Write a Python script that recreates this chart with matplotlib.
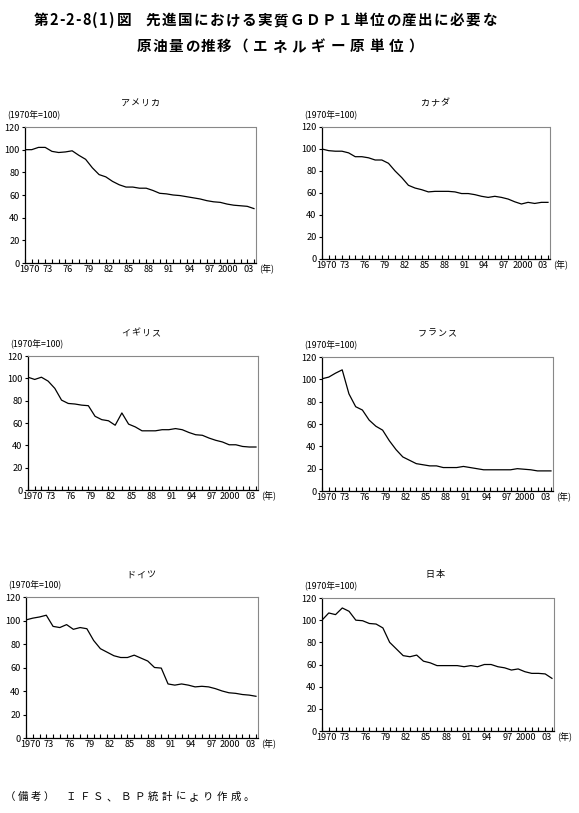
import matplotlib
matplotlib.use("Agg")
import matplotlib.pyplot as plt
import numpy as np

plt.rcParams['font.family'] = ['Noto Sans CJK JP', 'DejaVu Sans']

years = list(range(1970, 2005))
tick_years = [1970, 1973, 1976, 1979, 1982, 1985, 1988, 1991, 1994, 1997, 2000, 2003]
tick_labels = ["1970", "73", "76", "79", "82", "85", "88", "91", "94", "97", "2000", "03"]

usa = [100, 100, 102, 102, 98.5, 97.5, 98, 99, 95, 91.5, 84, 78, 76, 72, 69, 67, 67, 66, 66, 64,
       61.5, 61, 60, 59.5, 58.5, 57.5, 56.5, 55, 54, 53.5, 52, 51, 50.5, 50, 48]
canada = [100, 98.5, 98, 98, 96.5, 93, 93, 92, 90, 90, 87, 80, 74, 67, 64.5, 63, 61, 61.5, 61.5, 61.5,
          61, 59.5, 59.5, 58.5, 57, 56, 57, 56, 54.5, 52, 50, 51.5, 50.5, 51.5, 51.5]
uk = [101, 99, 101, 97.5, 91, 80.5, 77.5, 77, 76, 75.5, 66, 63, 62, 58, 69, 59, 56.5, 53, 53, 53,
      54, 54, 55, 54, 51.5, 49.5, 49, 46.5, 44.5, 43, 40.5, 40.5, 39, 38.5, 38.5]
france = [100.5, 102, 105.5, 108.5, 87, 75.5, 72.5, 63.5, 58, 54.5, 45, 37, 30.5, 27.5, 24.5, 23.5, 22.5, 22.5, 21, 21,
          21, 22, 21, 20, 19, 19, 19, 19, 19, 20, 19.5, 19, 18, 18, 18]
germany = [100.5, 102, 103, 104.5, 95, 94, 96.5, 92.5, 94, 93, 83, 76, 73, 70, 68.5, 68.5, 70.5, 68, 65.5, 60,
           59.5, 46, 45, 46, 45, 43.5, 44, 43.5, 42, 40, 38.5, 38, 37, 36.5, 35.5]
japan = [100, 106.5, 105, 111, 108, 100, 99.5, 97, 96.5, 93, 80, 74, 68, 67, 68.5, 63, 61.5, 59, 59, 59,
         59, 58, 59, 58, 60, 60, 58, 57, 55, 56, 53.5, 52, 52, 51.5, 47.5]

W, H = 579, 813
fig = plt.figure(figsize=(W / 100, H / 100), dpi=100)


def chars_at(s, first_center, y, pitch, size, weight='normal'):
    """Place each character centred on a fixed pitch grid."""
    for i, ch in enumerate(s):
        fig.text((first_center + i * pitch) / W, 1 - y / H, ch, ha='center', va='center',
                 fontsize=size, fontweight=weight)


def spaced_text(s, x_start, y, pitch, size, weight='normal'):
    """Place characters at a fixed pitch (full-width = pitch, ASCII = pitch/2)."""
    x = x_start
    for ch in s:
        w = pitch / 2 if ord(ch) < 128 else pitch
        fig.text((x + w / 2) / W, 1 - y / H, ch, ha='center', va='center',
                 fontsize=size, fontweight=weight)
        x += w


panels = [
    ("アメリカ", usa, (25, 127, 256, 263), 103, 140),
    ("カナダ", canada, (322, 127, 550, 259), 103, 435),
    ("イギリス", uk, (28, 356, 258, 490), 333, 141),
    ("フランス", france, (322, 357, 553, 491), 333, 437),
    ("ドイツ", germany, (26, 597, 258, 738), 575, 141),
    ("日本", japan, (322, 598, 554, 731), 575, 435),
]

fs = 6.6
offsets = {1970: 0.65, 2000: 0.15, 2003: 0.15}
label_pos = [y + offsets.get(y, 0.4) for y in tick_years]
for name, vals, (x0, y0, x1, y1), ty, tx in panels:
    ax = fig.add_axes([x0 / W, 1 - y1 / H, (x1 - x0) / W, (y1 - y0) / H])
    ax.plot(years, vals, color='black', lw=0.9)
    ax.set_xlim(1970, 2004.3)
    ax.set_ylim(0, 120)
    ax.set_yticks(range(0, 121, 20))
    ax.xaxis.remove_overlapping_locs = False
    ax.set_xticks(years)
    ax.set_xticklabels([])
    ax.tick_params(axis='x', which='major', direction='in', length=3, width=0.8)
    ax.set_xticks(label_pos, minor=True)
    ax.set_xticklabels(tick_labels, minor=True, fontsize=fs)
    ax.tick_params(axis='x', which='minor', length=0, pad=1.5)
    ax.tick_params(axis='y', direction='out', length=2, width=0.8, labelsize=fs, pad=2)
    for s in ('top', 'right'):
        ax.spines[s].set_linestyle((0, (1, 1)))
        ax.spines[s].set_color('#888888')
        ax.spines[s].set_linewidth(0.8)
    for s in ('left', 'bottom'):
        ax.spines[s].set_linewidth(0.9)
    n = len(name)
    chars_at(name, tx - (n - 1) * 10 / 2, ty, 10, 6.5)
    fig.text((x0 - 18) / W, 1 - (y0 - 12) / H, "(1970年=100)", ha='left', va='center', fontsize=6.3)
    fig.text((x1 + 3) / W, 1 - (y1 + 6) / H, "(年)", ha='left', va='center', fontsize=6.5)

spaced_text("第2-2-8(1)図", 33, 20, 16.5, 10.5, 'bold')
spaced_text("先進国における実質ＧＤＰ１単位の産出に必要な", 145, 20, 16.0, 10.5, 'bold')
chars_at("原油量の推移", 144, 46, 16.0, 10.5, 'bold')
chars_at("（エネルギー原単位）", 240.5, 46, 19.5, 10.5, 'bold')
chars_at("（備考）", 10, 797, 13.0, 7.5)
chars_at("ＩＦＳ、ＢＰ統計により作成。", 71, 797, 13.7, 7.5)

fig.savefig("out.png", dpi=100)
